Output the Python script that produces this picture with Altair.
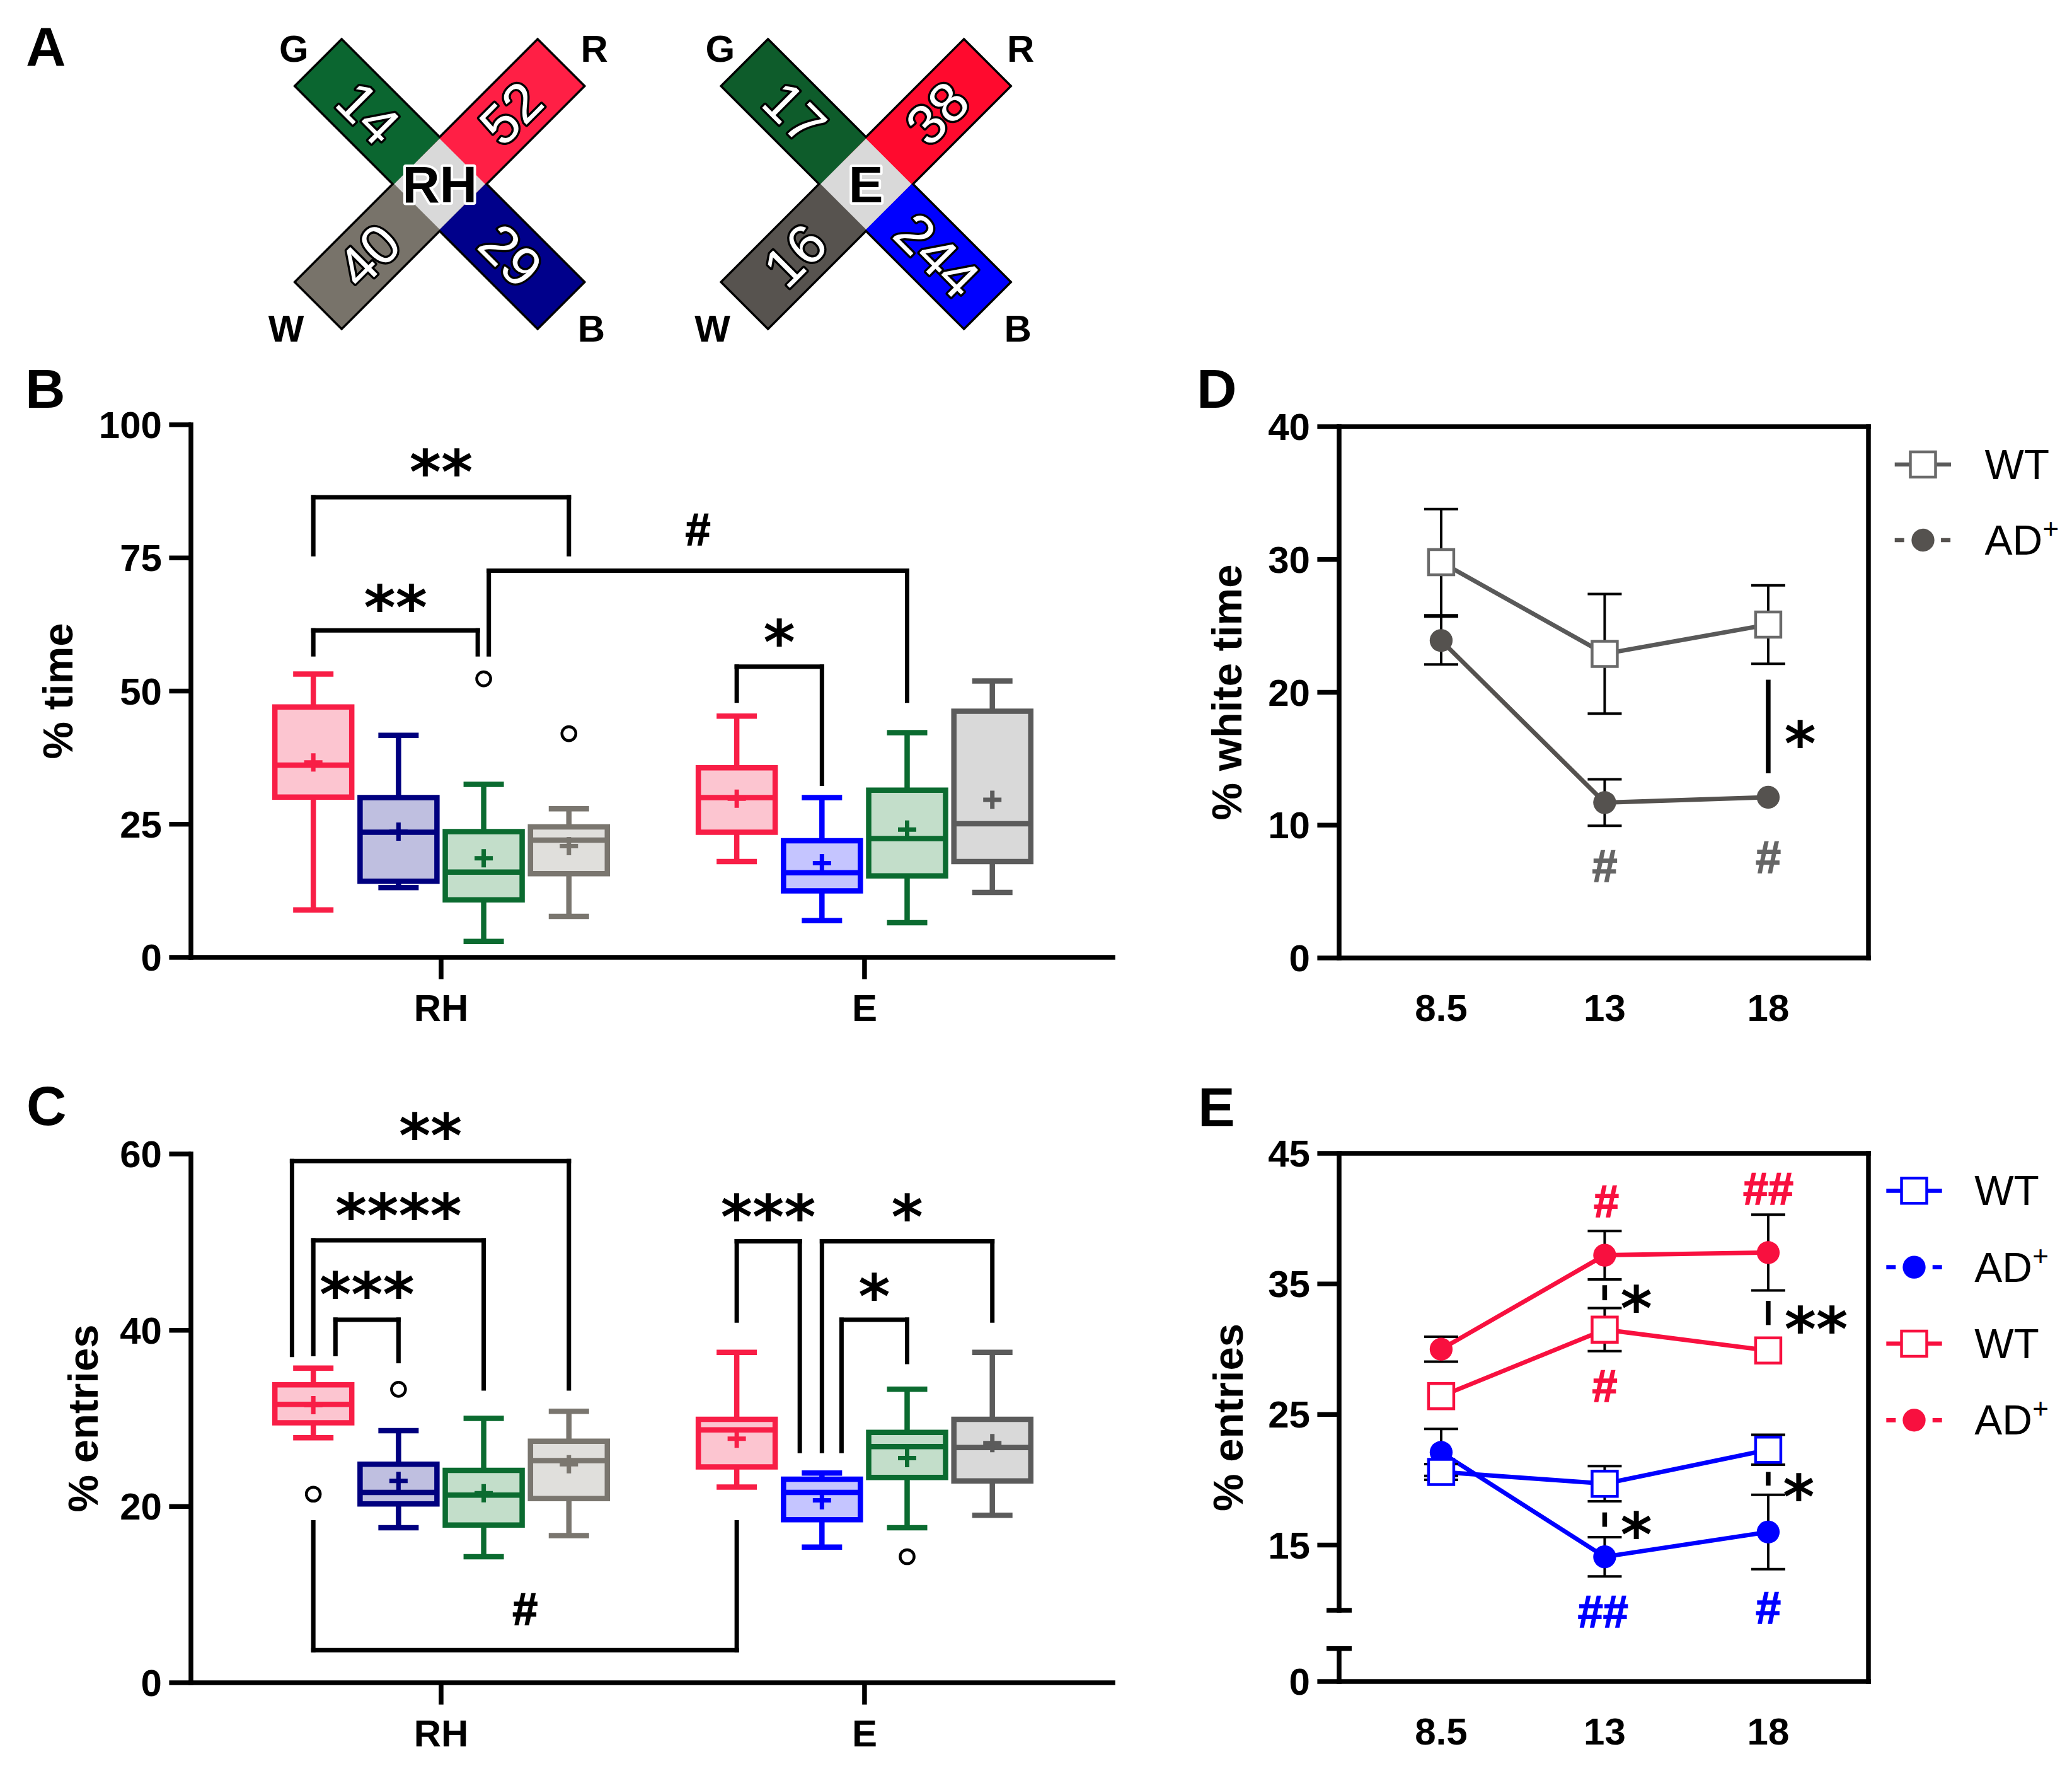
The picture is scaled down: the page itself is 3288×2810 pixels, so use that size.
import json
import pandas as pd
import altair as alt

W, H = 3272, 2794
FONT = "Liberation Sans"
STAR_FONT = "DejaVu Sans"

# ================= values =================
groups = ["RH", "E"]                    # x categories of panels B and C
box_arms = ["R", "B", "G", "W"]         # box order inside each group

# A: number written in each arm of the two mazes
cross_names = ["RH", "E"]
arm_G = [14, 17]
arm_R = [52, 38]
arm_W = [40, 16]
arm_B = [29, 244]

# B: % time  (RH R,B,G,W then E R,B,G,W)
time_lo = [8.9, 13.1, 3.0, 7.7, 18.0, 6.9, 6.5, 12.2]
time_q1 = [30.1, 14.3, 10.8, 15.7, 23.5, 12.5, 15.3, 18.0]
time_med = [36.1, 23.5, 16.0, 22.0, 30.0, 15.9, 22.3, 25.1]
time_mean = [36.6, 23.6, 18.6, 20.9, 29.8, 17.7, 24.0, 29.6]
time_q3 = [47.0, 30.0, 23.6, 24.5, 35.6, 21.9, 31.4, 46.2]
time_hi = [53.2, 41.7, 32.5, 27.9, 45.3, 30.0, 42.2, 51.9]
time_out_box = [2, 3]
time_out_val = [52.3, 42.0]
time_ticks = [0, 25, 50, 75, 100]
time_br_left = [0, 0, 2, 4]
time_br_left_shift = [0.0, 0.0, 0.06, 0.0]
time_br_right = [3, 2, 6, 5]
time_br_right_shift = [0.0, -0.07, 0.0, 0.0]
time_br_bar = [86.4, 61.4, 72.6, 54.6]
time_br_left_end = [75.7, 56.9, 56.9, 48.2]
time_br_right_end = [75.7, 56.9, 48.2, 32.6]
time_br_text = ["**", "**", "#", "*"]
time_br_text_y = [93.5, 68.1, 80.4, 61.5]

# C: % entries
ent_lo = [27.8, 17.6, 14.3, 16.7, 22.2, 15.4, 17.6, 19.0]
ent_q1 = [29.5, 20.3, 17.9, 20.9, 24.5, 18.5, 23.3, 22.9]
ent_med = [31.6, 21.6, 21.3, 25.2, 28.7, 21.6, 26.8, 26.7]
ent_mean = [31.5, 22.9, 21.5, 24.8, 27.7, 20.7, 25.5, 27.2]
ent_q3 = [33.8, 24.8, 24.1, 27.4, 29.9, 23.1, 28.4, 29.9]
ent_hi = [35.7, 28.6, 30.0, 30.8, 37.5, 23.8, 33.3, 37.5]
ent_out_box = [0, 1, 6]
ent_out_val = [21.4, 33.3, 14.3]
ent_ticks = [0, 20, 40, 60]
ent_br_left = [0, 0, 0, 4, 5, 5, 0]
ent_br_left_shift = [-0.25, 0.0, 0.26, 0.0, 0.0, 0.23, 0.0]
ent_br_right = [3, 2, 1, 5, 7, 6, 4]
ent_br_right_shift = [0.0, 0.0, 0.0, -0.26, 0.0, 0.0, 0.0]
ent_br_bar = [59.2, 50.2, 41.2, 50.1, 50.1, 41.2, 3.7]
ent_br_left_end = [37.2, 37.3, 37.3, 41.1, 26.3, 26.3, 18.2]
ent_br_right_end = [33.4, 33.4, 36.5, 26.3, 41.1, 36.4, 18.2]
ent_br_text = ["**", "****", "***", "***", "*", "*", "#"]
ent_br_text_y = [63.5, 54.4, 45.5, 54.3, 54.3, 45.3, 8.35]

# D: % white time by age (mean, SEM; 0 = bar hidden behind the marker)
ages = ["8.5", "13", "18"]
white_wt = [29.8, 22.9, 25.1]
white_wt_sem = [4.0, 4.5, 2.95]
white_ad = [23.9, 11.7, 12.1]
white_ad_sem = [1.8, 1.75, 0.0]
white_ticks = [0, 10, 20, 30, 40]
white_sig_x = [2]
white_sig_lo = [13.9]
white_sig_hi = [20.95]
white_star_x = [2.195]
white_star_y = [17.1]
white_star = ["*"]
white_hash_x = [1, 2]
white_hash_y = [6.95, 7.6]
white_hash = ["#", "#"]

# E: % entries by age (blue arm, red arm)
entb_wt = [20.6, 19.7, 22.3]
entb_wt_sem = [0.6, 1.35, 1.15]
entb_ad = [22.1, 14.1, 16.0]
entb_ad_sem = [1.8, 1.5, 2.85]
entr_wt = [26.4, 31.5, 29.9]
entr_wt_sem = [0.0, 1.65, 0.0]
entr_ad = [30.0, 37.2, 37.4]
entr_ad_sem = [0.95, 1.85, 2.9]
entage_ticks = [15, 25, 35, 45]
ent_sig_x = [1, 1, 2, 2]
ent_sig_lo = [33.75, 16.4, 31.85, 19.55]
ent_sig_hi = [34.9, 17.5, 33.7, 20.6]
ent_star_x = [1.193, 1.193, 2.293, 2.187]
ent_star_y = [34.07, 16.75, 32.5, 19.67]
ent_star = ["*", "*", "**", "*"]
ent_hash_x = [1.01, 1.0, 2.0, 0.99, 2.0]
ent_hash_y = [41.35, 27.2, 42.3, 9.9, 10.2]
ent_hash = ["#", "#", "##", "##", "#"]
ent_hash_arm = ["R", "R", "R", "B", "B"]
ent_axis_break = [7.07, 10.0]

# ================= styles =================
box_stroke = ["#F81E46", "#00007F", "#0B6B30", "#7A766F",
              "#F81E46", "#0000FF", "#0B6B30", "#5B5B5B"]
box_fill = ["#FCC5D0", "#BFBFE0", "#C3DECA", "#E0DFDC",
            "#FCC5D0", "#C5C5FF", "#C3DECA", "#D9D9D9"]
cross_colours = {
    "RH": {"G": "#0B6630", "R": "#FF1F45", "W": "#78736A", "B": "#00008B"},
    "E": {"G": "#0E5C2B", "R": "#FF0A2E", "W": "#57534F", "B": "#0000FF"},
}
RED = "#F8103F"
BLUE = "#0000FF"
GREY_LINE = "#595959"
GREY_AD = "#55524F"
GREY_WT = "#6A6A6A"
PLUS = "M-1,0L1,0M0,-1L0,1"
SLOT = 0.2012
AX_W = 7.5        # axis line width
TICK = 34.6       # tick length
BOX_W = 8.5       # box / whisker line width

# ================= scales (pixel ranges inside the canvas) =================
XB_DOM = [0.4092, 2.5865]
XB = alt.Scale(domain=XB_DOM, range=[290, 1763], nice=False, zero=False)
YB = alt.Scale(domain=[0, 100], range=[1511, 666], nice=False, zero=False)
YC = alt.Scale(domain=[0, 60], range=[2662, 1823], nice=False, zero=False)
XD_DOM = [-0.624, 2.613]
XD = alt.Scale(domain=XD_DOM, range=[2117, 2957], nice=False, zero=False)
YD = alt.Scale(domain=[0, 40], range=[1512, 669], nice=False, zero=False)
YE_DOM = [4.55, 45]
YE = alt.Scale(domain=YE_DOM, range=[2660, 1822], nice=False, zero=False)
YA = alt.Scale(domain=[-1, 1], range=[960.5, -392.5], nice=False, zero=False)


def box_pos(b, shift=0.0):
    return (b // 4 + 1) + ((b % 4) - 1.5 + shift) * SLOT


def stars_text(df, xs, ys, colour="black"):
    return alt.Chart(df).mark_text(font=STAR_FONT, fontWeight="bold", fontSize=96,
                                   baseline="alphabetic", align="center", dy=54,
                                   color=colour).encode(x=xs, y=ys, text="lab:N")


def hash_text(df, xs, ys, size=72):
    return alt.Chart(df).mark_text(font=FONT, fontWeight="bold", fontSize=size,
                                   baseline="alphabetic", align="center",
                                   dy=round(0.345 * size), strokeWidth=1.5).encode(
        x=xs, y=ys, text="lab:N", color=alt.Color("col:N", scale=None),
        stroke=alt.Stroke("col:N", scale=None))


def axes_layers(xs, ys, xdom, ydom, yvals, ylabs, xvals, xlabs, x_ticks, x_pad,
                title, title_x, y_line=True):
    X = lambda f: alt.X(f"{f}:Q", scale=xs, axis=None)
    Y = lambda f: alt.Y(f"{f}:Q", scale=ys, axis=None)
    segs = [dict(x1=xdom[0], x2=xdom[1], y1=ydom[0], y2=ydom[0])]
    if y_line:
        segs.append(dict(x1=xdom[0], x2=xdom[0], y1=ydom[0], y2=ydom[1]))
    dline = pd.DataFrame(segs)
    dy_ = pd.DataFrame(dict(v=yvals, lab=ylabs, x=xdom[0]))
    dx_ = pd.DataFrame(dict(v=xvals, lab=xlabs, y=ydom[0]))
    dt = pd.DataFrame(dict(x=[xdom[0]], y=[(ydom[0] + ydom[1]) / 2], t=[title]))
    layers = [
        alt.Chart(dline).mark_rule(strokeWidth=AX_W, strokeCap="square", color="black").encode(
            x=X("x1"), x2="x2:Q", y=Y("y1"), y2="y2:Q"),
        alt.Chart(dy_).mark_tick(orient="horizontal", size=TICK, thickness=AX_W, xOffset=-TICK / 2,
                                 color="black", opacity=1).encode(x=X("x"), y=Y("v")),
        alt.Chart(dy_).mark_text(font=FONT, fontWeight="bold", fontSize=60, align="right",
                                 baseline="middle", dx=-(TICK + 11.5), dy=3,
                                 color="black").encode(x=X("x"), y=Y("v"), text="lab:N"),
        alt.Chart(dx_).mark_text(font=FONT, fontWeight="bold", fontSize=60, align="center",
                                 baseline="top", dy=x_pad, color="black").encode(
            x=X("v"), y=Y("y"), text="lab:N"),
        alt.Chart(dt).mark_text(font=FONT, fontWeight="bold", fontSize=67, align="center",
                                baseline="alphabetic", angle=270, xOffset=title_x,
                                color="black").encode(x=X("x"), y=Y("y"), text="t:N"),
    ]
    if x_ticks:
        layers.insert(2, alt.Chart(dx_).mark_tick(orient="vertical", size=TICK, thickness=AX_W,
                                                  yOffset=TICK / 2, color="black",
                                                  opacity=1).encode(x=X("v"), y=Y("y")))
    return layers


# ================= panel A =================
def panel_a():
    ARM_IN, NUM, DIAG = 0.2831, 0.167, 0.2868
    arm_dir = {"G": (-1, 1, 45), "R": (1, 1, 315), "W": (-1, -1, 315), "B": (1, -1, 45)}
    letter_off = {"G": (-0.342, 0.318), "R": (0.363, 0.318), "W": (-0.360, -0.338), "B": (0.356, -0.338)}
    counts = {"G": arm_G, "R": arm_R, "W": arm_W, "B": arm_B}
    black, halves, nums, letters, centres = [], [], [], [], []
    for i, name in enumerate(cross_names):
        c = i + 1
        black.append(dict(x1=c - DIAG, y1=DIAG, x2=c + DIAG, y2=-DIAG))
        black.append(dict(x1=c + DIAG, y1=DIAG, x2=c - DIAG, y2=-DIAG))
        for arm in ["G", "B", "R", "W"]:
            sx, sy, ang = arm_dir[arm]
            halves.append(dict(x1=c + sx * ARM_IN, y1=sy * ARM_IN, x2=c, y2=0.0,
                               col=cross_colours[name][arm]))
            nums.append(dict(x=c + sx * NUM, y=sy * NUM, t=str(counts[arm][i]), ang=ang))
            lx, ly = letter_off[arm]
            letters.append(dict(x=c + lx, y=ly, t=arm))
        centres.append(dict(x=c, y=0.0, t=name))
    dblack, dhalf = pd.DataFrame(black), pd.DataFrame(halves)
    dnum, dlet, dcen = pd.DataFrame(nums), pd.DataFrame(letters), pd.DataFrame(centres)
    X = lambda f: alt.X(f"{f}:Q", scale=XB, axis=None)
    Y = lambda f: alt.Y(f"{f}:Q", scale=YA, axis=None)
    layers = [
        alt.Chart(dblack).mark_rule(strokeWidth=109, color="black").encode(
            x=X("x1"), y=Y("y1"), x2="x2:Q", y2="y2:Q"),
        alt.Chart(dhalf).mark_rule(strokeWidth=102).encode(
            x=X("x1"), y=Y("y1"), x2="x2:Q", y2="y2:Q", color=alt.Color("col:N", scale=None)),
        alt.Chart(dcen).mark_square(size=102 * 102, angle=45, color="#D9D9D9", opacity=1).encode(
            x=X("x"), y=Y("y")),
        alt.Chart(dnum).mark_text(font=FONT, fontSize=88, baseline="alphabetic", dy=31,
                                  fill="black", stroke="black", strokeWidth=7,
                                  strokeJoin="round").encode(
            x=X("x"), y=Y("y"), text="t:N", angle=alt.Angle("ang:Q", scale=None)),
        alt.Chart(dnum).mark_text(font=FONT, fontSize=88, baseline="alphabetic", dy=31,
                                  fill="white").encode(
            x=X("x"), y=Y("y"), text="t:N", angle=alt.Angle("ang:Q", scale=None)),
        alt.Chart(dcen).mark_text(font=FONT, fontSize=82, fontWeight="bold", baseline="alphabetic",
                                  dy=29, fill="white", stroke="white", strokeWidth=8,
                                  strokeJoin="round").encode(x=X("x"), y=Y("y"), text="t:N"),
        alt.Chart(dcen).mark_text(font=FONT, fontSize=82, fontWeight="bold", baseline="alphabetic",
                                  dy=29, fill="black").encode(x=X("x"), y=Y("y"), text="t:N"),
        alt.Chart(dlet).mark_text(font=FONT, fontSize=60, fontWeight="bold", baseline="alphabetic",
                                  dy=21, fill="black").encode(x=X("x"), y=Y("y"), text="t:N"),
    ]
    return alt.layer(*layers)


# ================= panels B and C =================
def box_panel(vals, outs, brs, yscale, ydom, yticks, title, title_x):
    lo, q1, med, mean, q3, hi = vals
    n = len(lo)
    pos = [box_pos(b) for b in range(n)]
    df = pd.DataFrame(dict(pos=pos, lo=lo, q1=q1, med=med, mean=mean, q3=q3, hi=hi,
                           stroke=box_stroke, fill=box_fill))
    caps = pd.DataFrame(dict(pos=pos * 2, v=list(lo) + list(hi), stroke=box_stroke * 2))
    ob, ov = outs
    dfo = pd.DataFrame(dict(pos=[box_pos(b) for b in ob], v=ov))
    bl, bls, br, brs_, bar, le, ren, lab, laby = brs
    xl = [box_pos(b, s) for b, s in zip(bl, bls)]
    xr = [box_pos(b, s) for b, s in zip(br, brs_)]
    dfb = pd.DataFrame(dict(xl=xl, xr=xr, bar=bar, le=le, ren=ren, lab=lab, laby=laby,
                            xm=[(a + b) / 2 for a, b in zip(xl, xr)], col="black"))
    X = lambda f: alt.X(f"{f}:Q", scale=XB, axis=None)
    Y = lambda f: alt.Y(f"{f}:Q", scale=yscale, axis=None)
    S = alt.Stroke("stroke:N", scale=None)
    C = alt.Color("stroke:N", scale=None)
    layers = axes_layers(XB, yscale, XB_DOM, ydom, yticks, [str(v) for v in yticks],
                         [1, 2], groups, True, TICK + 19, title, title_x)
    layers += [
        alt.Chart(df).mark_rule(strokeWidth=BOX_W).encode(
            x=X("pos"), y=Y("lo"), y2="hi:Q", stroke=S),
        alt.Chart(df).mark_bar(size=122, strokeWidth=BOX_W, strokeJoin="miter", opacity=1).encode(
            x=X("pos"), y=Y("q1"), y2="q3:Q", fill=alt.Fill("fill:N", scale=None), stroke=S),
        alt.Chart(df).mark_tick(orient="horizontal", size=122, thickness=BOX_W, opacity=1).encode(
            x=X("pos"), y=Y("med"), color=C),
        alt.Chart(caps).mark_tick(orient="horizontal", size=64, thickness=BOX_W, opacity=1).encode(
            x=X("pos"), y=Y("v"), color=C),
        alt.Chart(df).mark_point(shape=PLUS, size=841, strokeWidth=7, filled=False, opacity=1).encode(
            x=X("pos"), y=Y("mean"), color=C),
        alt.Chart(dfo).mark_point(shape="circle", size=490, strokeWidth=4.5, filled=False,
                                  color="black", opacity=1).encode(x=X("pos"), y=Y("v")),
        alt.Chart(dfb).mark_rule(strokeWidth=7, strokeCap="square", color="black").encode(
            x=X("xl"), x2="xr:Q", y=Y("bar")),
        alt.Chart(dfb).mark_rule(strokeWidth=7, strokeCap="square", color="black").encode(
            x=X("xl"), y=Y("bar"), y2="le:Q"),
        alt.Chart(dfb).mark_rule(strokeWidth=7, strokeCap="square", color="black").encode(
            x=X("xr"), y=Y("bar"), y2="ren:Q"),
        stars_text(dfb[dfb["lab"] != "#"], X("xm"), Y("laby")),
        hash_text(dfb[dfb["lab"] == "#"], X("xm"), Y("laby")),
    ]
    return alt.layer(*layers)


panel_b = box_panel(
    (time_lo, time_q1, time_med, time_mean, time_q3, time_hi),
    (time_out_box, time_out_val),
    (time_br_left, time_br_left_shift, time_br_right, time_br_right_shift, time_br_bar,
     time_br_left_end, time_br_right_end, time_br_text, time_br_text_y),
    YB, [0, 100], time_ticks, "% time", -188)
panel_c = box_panel(
    (ent_lo, ent_q1, ent_med, ent_mean, ent_q3, ent_hi),
    (ent_out_box, ent_out_val),
    (ent_br_left, ent_br_left_shift, ent_br_right, ent_br_right_shift, ent_br_bar,
     ent_br_left_end, ent_br_right_end, ent_br_text, ent_br_text_y),
    YC, [0, 60], ent_ticks, "% entries", -148)


# ================= panels D and E =================
def series_frame(series):
    rows = []
    for name, kind, col, means, sems in series:
        for i, (m, s) in enumerate(zip(means, sems)):
            rows.append(dict(series=name, kind=kind, col=col, idx=i, mean=m, sem=s,
                             lo=m - s, hi=m + s))
    return pd.DataFrame(rows)


def line_panel(series, yscale, axes, wt_stroke, sig, stars, hashes, frame, caps_frame=None):
    df = series_frame(series)
    df["scol"] = [wt_stroke or c for c in df["col"]]
    err = df[df["sem"] > 0]
    capdf = pd.concat([err[["idx", "lo"]].rename(columns={"lo": "v"}),
                       err[["idx", "hi"]].rename(columns={"hi": "v"})])
    X = lambda f: alt.X(f"{f}:Q", scale=XD, axis=None)
    Y = lambda f: alt.Y(f"{f}:Q", scale=yscale, axis=None)
    C = alt.Color("col:N", scale=None)
    layers = list(axes)
    layers.append(alt.Chart(frame).mark_rule(strokeWidth=AX_W, strokeCap="square", color="black").encode(
        x=X("x1"), x2="x2:Q", y=Y("y1"), y2="y2:Q"))
    if caps_frame is not None:
        layers.append(alt.Chart(caps_frame).mark_rule(strokeWidth=AX_W, color="black").encode(
            x=X("x1"), x2="x2:Q", y=Y("y1"), y2="y2:Q"))
    layers += [
        alt.Chart(df).mark_line(strokeWidth=7).encode(
            x=X("idx"), y=Y("mean"), color=C, detail="series:N"),
        alt.Chart(err).mark_rule(strokeWidth=4, color="black").encode(x=X("idx"), y=Y("lo"), y2="hi:Q"),
        alt.Chart(capdf).mark_tick(orient="horizontal", size=54, thickness=4, color="black",
                                   opacity=1).encode(x=X("idx"), y=Y("v")),
        alt.Chart(df[df["kind"] == "AD"]).mark_circle(size=1320, opacity=1).encode(
            x=X("idx"), y=Y("mean"), color=C),
        alt.Chart(df[df["kind"] == "WT"]).mark_square(size=1600, fill="white", strokeWidth=4.5,
                                                    opacity=1).encode(
            x=X("idx"), y=Y("mean"), stroke=alt.Stroke("scol:N", scale=None)),
        alt.Chart(sig).mark_rule(strokeWidth=7.5, color="black").encode(
            x=X("x"), y=Y("lo"), y2="hi:Q"),
        stars_text(stars, X("x"), Y("y")),
        hash_text(hashes, X("x"), Y("y"), 72),
    ]
    return alt.layer(*layers)


XL, XR = XD_DOM

d_frame = pd.DataFrame(dict(x1=[XL, XR], x2=[XR, XR], y1=[40, 0], y2=[40, 40]))
panel_d = line_panel(
    [("WT", "WT", GREY_LINE, white_wt, white_wt_sem), ("AD", "AD", GREY_AD, white_ad, white_ad_sem)],
    YD,
    axes_layers(XD, YD, XD_DOM, [0, 40], white_ticks, [str(v) for v in white_ticks],
                [0, 1, 2], ages, False, 53, "% white time", -155),
    GREY_WT,
    pd.DataFrame(dict(x=white_sig_x, lo=white_sig_lo, hi=white_sig_hi)),
    pd.DataFrame(dict(x=white_star_x, y=white_star_y, lab=white_star)),
    pd.DataFrame(dict(x=white_hash_x, y=white_hash_y, lab=white_hash, col="#666666")),
    d_frame)

brk_lo, brk_hi = ent_axis_break
e_frame = pd.DataFrame(dict(x1=[XL, XL, XL, XR], x2=[XL, XL, XR, XR],
                            y1=[brk_hi, YE_DOM[0], 45, YE_DOM[0]], y2=[45, brk_lo, 45, 45]))
e_caps = pd.DataFrame(dict(x1=[XL - 0.077] * 2, x2=[XL + 0.077] * 2,
                           y1=[brk_hi, brk_lo], y2=[brk_hi, brk_lo]))
arm_col = {"R": RED, "B": BLUE}
panel_e = line_panel(
    [("WTb", "WT", BLUE, entb_wt, entb_wt_sem), ("ADb", "AD", BLUE, entb_ad, entb_ad_sem),
     ("WTr", "WT", RED, entr_wt, entr_wt_sem), ("ADr", "AD", RED, entr_ad, entr_ad_sem)],
    YE,
    axes_layers(XD, YE, XD_DOM, YE_DOM, [YE_DOM[0]] + entage_ticks,
                ["0"] + [str(v) for v in entage_ticks],
                [0, 1, 2], ages, False, 53, "% entries", -153, y_line=False),
    None,
    pd.DataFrame(dict(x=ent_sig_x, lo=ent_sig_lo, hi=ent_sig_hi)),
    pd.DataFrame(dict(x=ent_star_x, y=ent_star_y, lab=ent_star)),
    pd.DataFrame(dict(x=ent_hash_x, y=ent_hash_y, lab=ent_hash,
                      col=[arm_col[a] for a in ent_hash_arm])),
    e_frame, e_caps)


# ================= legends =================
def legend(labels, kinds, colours, rows_px, x1, x2, xm, xt, wt_stroke):
    n = len(labels)
    df = pd.DataFrame(dict(row=list(range(n)), lab=labels, kind=kinds, col=colours,
                           scol=[wt_stroke if (k == "WT" and wt_stroke) else c
                                 for k, c in zip(kinds, colours)]))
    Y = alt.Y("row:Q", scale=alt.Scale(domain=[0, n - 1], range=rows_px, nice=False, zero=False),
              axis=None)
    C = alt.Color("col:N", scale=None)
    wt, ad = df[df["kind"] == "WT"], df[df["kind"] == "AD"]
    return alt.layer(
        alt.Chart(wt).mark_rule(strokeWidth=6.7).encode(x=alt.value(x1), x2=alt.value(x2), y=Y, color=C),
        alt.Chart(ad).mark_rule(strokeWidth=6.7, strokeDash=[15, 58.4]).encode(
            x=alt.value(x1), x2=alt.value(x2), y=Y, color=C),
        alt.Chart(wt).mark_square(size=1600, fill="white", strokeWidth=4.5, opacity=1).encode(
            x=alt.value(xm), y=Y, stroke=alt.Stroke("scol:N", scale=None)),
        alt.Chart(ad).mark_circle(size=1320, opacity=1).encode(x=alt.value(xm), y=Y, color=C),
        alt.Chart(df).mark_text(font=FONT, fontSize=66, align="left", baseline="alphabetic",
                                dy=23, color="black").encode(x=alt.value(xt), y=Y, text="lab:N"),
        alt.Chart(ad).mark_text(font=FONT, fontSize=44, align="left", baseline="alphabetic",
                                dy=-3, color="black").encode(
            x=alt.value(xt + 92), y=Y, text=alt.value("+")),
    )


leg_d = legend(["WT", "AD"], ["WT", "AD"], [GREY_LINE, GREY_AD], [729, 849],
               2998.7, 3088, 3043.5, 3141.5, GREY_WT)
leg_e = legend(["WT", "AD", "WT", "AD"], ["WT", "AD", "WT", "AD"], [BLUE, BLUE, RED, RED],
               [1881.3, 2245.3], 2985.3, 3073.7, 3029.5, 3125.3, None)

# ================= panel letters =================
letters = pd.DataFrame(dict(t=["A", "B", "C", "D", "E"],
                            x=[33, 32, 34, 1891, 1893],
                            y=[96, 639, 1777, 639, 1779]))
panel_letters = alt.Chart(letters).mark_text(font=FONT, fontSize=88, fontWeight="bold",
                                             align="left", baseline="alphabetic",
                                             color="black").encode(
    x=alt.X("x:Q", scale=None), y=alt.Y("y:Q", scale=None), text="t:N")

chart = alt.layer(
    panel_a(), panel_b, panel_c, panel_d, panel_e, leg_d, leg_e, panel_letters
).resolve_scale(x="independent", y="independent").properties(
    width=W, height=H, padding=0, background="white",
    autosize=alt.AutoSizeParams(type="none"),
).configure_view(stroke=None)

chart.save("out.html", embed_options={"renderer": "svg", "actions": False})
